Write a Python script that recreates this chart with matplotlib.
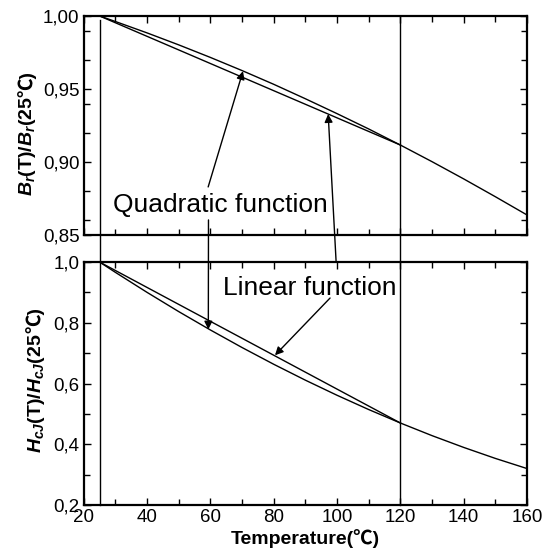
import matplotlib
matplotlib.use("Agg")
import matplotlib.pyplot as plt
from matplotlib.ticker import MultipleLocator, FixedLocator, FuncFormatter
from matplotlib.transforms import blended_transform_factory

plt.rcParams['font.family'] = ['Liberation Sans', 'Noto Sans CJK SC', 'DejaVu Sans']
plt.rcParams['mathtext.fontset'] = 'custom'
plt.rcParams['mathtext.it'] = 'Liberation Sans:italic:bold'
plt.rcParams['mathtext.rm'] = 'Liberation Sans:bold'
plt.rcParams['mathtext.bf'] = 'Liberation Sans:bold'

# ---- data ----
temp_quad = [25, 30, 40, 50, 60, 70, 80, 90, 100, 110, 120, 130, 140, 150, 160]
br_quad = [1.0, 0.9962, 0.9884, 0.9802, 0.9716, 0.9626, 0.9532, 0.9433,
           0.9331, 0.9226, 0.9116, 0.9002, 0.8884, 0.8762, 0.8637]
hcj_quad = [1.0, 0.9660, 0.9001, 0.8368, 0.7763, 0.7185, 0.6634, 0.6110,
            0.5613, 0.5143, 0.4700, 0.4284, 0.3896, 0.3534, 0.3200]
temp_lin = [25, 120]
br_lin = [1.0, 0.9116]
hcj_lin = [1.0, 0.4700]
ref_temps = [25, 120]

xticks = [20, 40, 60, 80, 100, 120, 140, 160]
top_yticks = [0.85, 0.90, 0.95, 1.00]
bot_yticks = [0.2, 0.4, 0.6, 0.8, 1.0]

fig = plt.figure(figsize=(5.44, 5.6), dpi=100)
ax1 = fig.add_axes([0.1539, 0.5804, 0.8149, 0.3911])
ax2 = fig.add_axes([0.1539, 0.0982, 0.8149, 0.4339])

lw = 1.0
ax1.plot(temp_quad, br_quad, color='black', lw=lw)
ax1.plot(temp_lin, br_lin, color='black', lw=lw)
ax2.plot(temp_quad, hcj_quad, color='black', lw=lw)
ax2.plot(temp_lin, hcj_lin, color='black', lw=lw)

ax1.set_xlim(20, 160)
ax2.set_xlim(20, 160)
ax1.set_ylim(0.85, 1.00)
ax2.set_ylim(0.2, 1.0)

for ax in (ax1, ax2):
    ax.set_xticks(xticks)
    ax.xaxis.set_minor_locator(MultipleLocator(10))
    ax.tick_params(which='both', direction='in', top=True, right=True,
                   width=1.0, labelsize=13.5, pad=3)
    ax.tick_params(which='major', length=5)
    ax.tick_params(which='minor', length=4)
    for s in ax.spines.values():
        s.set_linewidth(1.6)

ax1.set_yticks(top_yticks)
ax1.yaxis.set_minor_locator(FixedLocator([0.86, 0.88, 0.92, 0.94, 0.97, 0.99]))
ax1.yaxis.set_major_formatter(FuncFormatter(lambda v, p: f"{v:.2f}".replace('.', ',')))
ax1.tick_params(axis='x', labelbottom=False)

ax2.set_yticks(bot_yticks)
ax2.yaxis.set_minor_locator(MultipleLocator(0.1))
ax2.yaxis.set_major_formatter(FuncFormatter(lambda v, p: f"{v:.1f}".replace('.', ',')))

ax2.set_xlabel('Temperature(℃)', fontsize=14, fontweight='bold', labelpad=2)


# y labels: mathtext part + plain part (for the ℃ glyph), stacked vertically
def rotated_label(ax, math_part, plain_part, xbase, ycenter):
    ta = ax.text(xbase, ycenter, math_part, transform=ax.transAxes, rotation=90,
                 rotation_mode='anchor', ha='left', va='baseline', fontsize=14,
                 fontweight='bold')
    tb = ax.annotate(plain_part, xy=(xbase, 1.0), xycoords=(ax.transAxes, ta),
                     rotation=90, rotation_mode='anchor', ha='left',
                     va='baseline', fontsize=14, fontweight='bold',
                     annotation_clip=False)
    return ta, tb


la = rotated_label(ax1, r'$B_r$(T)/$B_r$(25', '℃)', -0.1164, 0.4635)
lb = rotated_label(ax2, r'$H_{cJ}$(T)/$H_{cJ}$(25', '℃)', -0.0967, 0.514)

fig.canvas.draw()
r = fig.canvas.get_renderer()
for (ta, tb), ax, yc in ((la, ax1, 0.4635), (lb, ax2, 0.514)):
    ea = ta.get_window_extent(r)
    eb = tb.get_window_extent(r)
    total = eb.y1 - ea.y0
    axh = ax.get_window_extent(r).height
    x0, _ = ta.get_position()
    ta.set_position((x0, yc - 0.5 * total / axh))

# vertical reference lines spanning both panels
tr = blended_transform_factory(ax1.transData, fig.transFigure)
for t, ytop in zip(ref_temps, [1 - 20 / 560, 1 - 16 / 560]):
    fig.add_artist(plt.Line2D([t, t], [1 - 505 / 560, ytop], transform=tr,
                              color='black', lw=1.0))

# labels and arrows
fig.text(220 / 544, 1 - 212 / 560, 'Quadratic function', fontsize=19,
         ha='center', va='baseline')
fig.text(310 / 544, 1 - 295 / 560, 'Linear function', fontsize=19,
         ha='center', va='baseline')

ap = dict(arrowstyle='-|>', color='black', lw=1.0, mutation_scale=12,
          shrinkA=0, shrinkB=0)
ax1.annotate('', xy=(70.3, 0.9622), xycoords=ax1.transData,
             xytext=(59.3, 0.8829), textcoords=ax1.transData,
             arrowprops=ap, annotation_clip=False)
ax2.annotate('', xy=(59.35, 0.778), xycoords=ax2.transData,
             xytext=(59.4, 0.8603), textcoords=ax1.transData,
             arrowprops=ap, annotation_clip=False)
ax1.annotate('', xy=(97.2, 0.9328), xycoords=ax1.transData,
             xytext=(99.9, 0.9638), textcoords=ax2.transData,
             arrowprops=ap, annotation_clip=False)
ax2.annotate('', xy=(80.4, 0.693), xycoords=ax2.transData,
             xytext=(97.8, 0.8815), textcoords=ax2.transData,
             arrowprops=ap, annotation_clip=False)

fig.savefig('out.png', dpi=100)
